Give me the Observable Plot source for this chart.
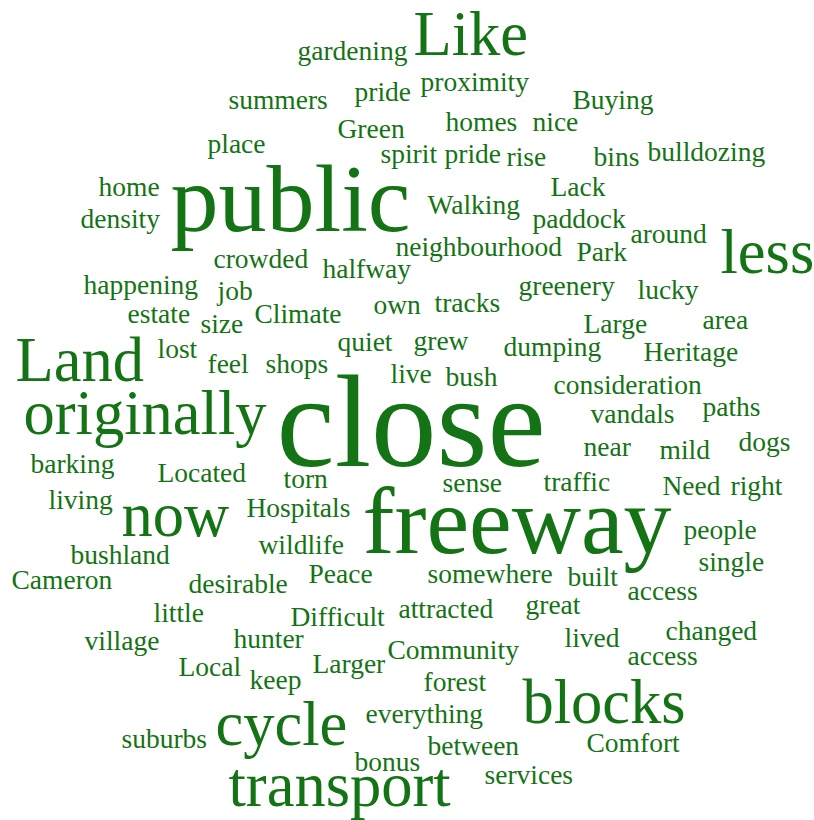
<!DOCTYPE html>
<html><head><meta charset="utf-8">
<script src="https://cdn.jsdelivr.net/npm/d3@7"></script>
<script src="https://cdn.jsdelivr.net/npm/@observablehq/plot@0.6"></script>
<style>body{margin:0;background:#fff}</style>
</head><body><div id="chart"></div>
<script>
const words = ["gardening","Like","summers","pride","proximity","Buying","Green","homes","nice","place",
"spirit","pride","rise","bins","bulldozing","home","public","Lack","density","Walking",
"paddock","around","less","crowded","neighbourhood","Park","halfway","happening","job","greenery",
"lucky","estate","own","tracks","Climate","size","Large","area","Land","lost",
"quiet","grew","dumping","Heritage","feel","shops","live","bush","originally","consideration",
"close","vandals","paths","barking","Located","near","mild","dogs","torn","sense",
"traffic","Need","right","living","now","Hospitals","freeway","people","bushland","wildlife",
"single","Cameron","desirable","Peace","somewhere","built","access","little","Difficult","attracted",
"great","village","hunter","lived","changed","Local","Larger","Community","access","keep",
"forest","cycle","blocks","everything","suburbs","bonus","between","Comfort","transport","services"];
const xs = [297,413,228,354,420,572,337,445,532,207,
380,444,506,593,647,98,170,550,80,427,
532,630,720,213,395,576,322,83,217,518,
637,127,373,434,254,200,583,702,15,157,
337,413,503,643,207,265,390,445,23,553,
276,590,702,30,157,583,659,738,283,442,
543,662,730,48,121,246,362,683,70,258,
698,11,188,308,427,567,627,153,290,398,
525,84,233,564,665,178,312,387,627,249,
423,215,522,365,121,354,427,586,228,484];
const ys = [59,54,108,100,90,108,137,130,130,152,
162,162,165,165,160,195,230,195,227,213,
227,242,272,267,255,260,277,293,299,294,
298,322,313,311,322,332,332,328,380,357,
350,349,355,360,372,372,382,385,433,393,
465,422,415,472,481,455,458,450,487,491,
490,494,494,508,535,516,552,538,563,553,
570,588,592,582,582,585,599,621,625,617,
613,649,647,646,639,675,672,658,664,688,
690,744,722,722,747,770,754,751,805,783];
const sizes = [27.5,62.5,27.5,27.5,27.5,27.5,27.5,27.5,27.5,27.5,
27.5,27.5,27.5,27.5,27.5,27.5,96,27.5,27.5,27.5,
27.5,27.5,62.5,27.5,27.5,27.5,27.5,27.5,27.5,27.5,
27.5,27.5,27.5,27.5,27.5,27.5,27.5,27.5,62.5,27.5,
27.5,27.5,27.5,27.5,27.5,27.5,27.5,27.5,62.5,27.5,
131,27.5,27.5,27.5,27.5,27.5,27.5,27.5,27.5,27.5,
27.5,27.5,27.5,27.5,62.5,27.5,96,27.5,27.5,27.5,
27.5,27.5,27.5,27.5,27.5,27.5,27.5,27.5,27.5,27.5,
27.5,27.5,27.5,27.5,27.5,27.5,27.5,27.5,27.5,27.5,
27.5,62.5,62.5,27.5,27.5,27.5,27.5,27.5,62.5,27.5];
const data = words.map((w, i) => ({word: w, x: xs[i], y: ys[i], size: sizes[i]}));
const chart = Plot.plot({
  width: 814, height: 820, margin: 0,
  x: {domain: [0, 814], range: [0, 814], axis: null},
  y: {domain: [0, 820], range: [0, 820], axis: null},
  marks: [
    Plot.text(data, {x: "x", y: "y", text: "word", fontSize: "size", textAnchor: "start",
      lineAnchor: "bottom", fill: "#147314", fontFamily: "Liberation Serif"})
  ]
});
document.getElementById("chart").append(chart);
</script>
</body></html>
